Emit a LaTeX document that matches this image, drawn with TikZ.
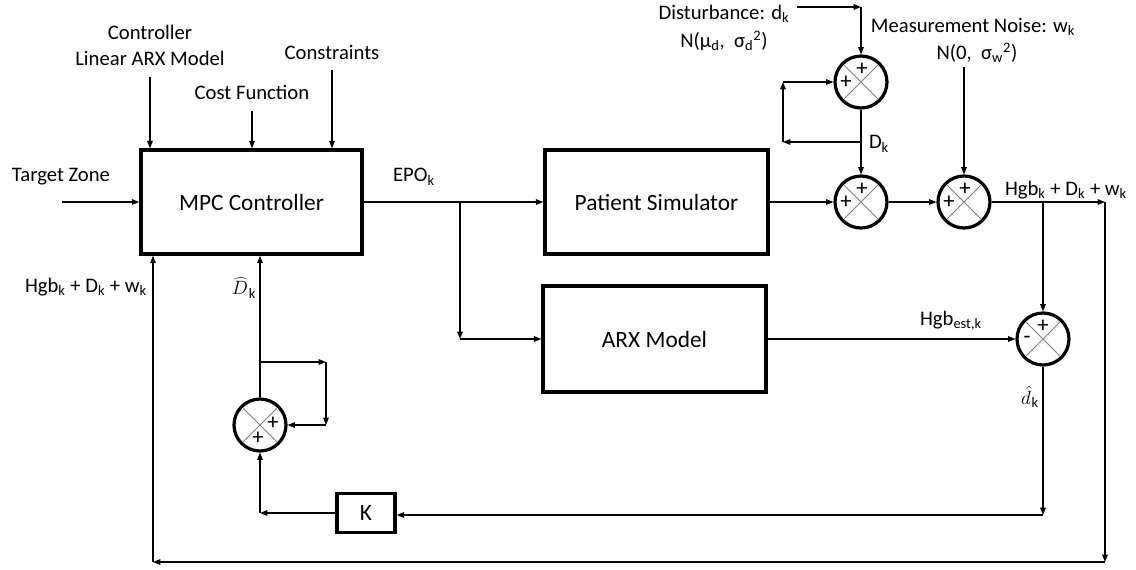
\documentclass[tikz,border=0pt]{standalone}
\usepackage{fontspec}
\setmainfont{Carlito}
\usetikzlibrary{arrows.meta}
\begin{document}
\begin{tikzpicture}[x=0.75pt,y=-0.75pt,
  conn/.style={line width=0.8pt,-{Triangle[length=5.5pt,width=4.2pt]}},
  blk/.style={draw,line width=2.6pt,inner sep=0pt,font=\fontsize{17.5}{20}\selectfont},
  sumnode/.style={draw,circle,line width=2.4pt,minimum size=39pt,inner sep=0pt},
  lbl/.style={inner sep=0pt,font=\fontsize{15.5}{18}\selectfont},
  sgn/.style={inner sep=0pt,font=\fontsize{17}{18}\selectfont}]
\useasboundingbox (0,0) rectangle (1136,569);

% blocks
\node[blk,minimum width=165.75pt,minimum height=78pt] (MPC) at (251.5,202) {MPC Controller};
\node[blk,minimum width=167.25pt,minimum height=78pt] (PS) at (656.5,202) {Patient Simulator};
\node[blk,minimum width=167.25pt,minimum height=79.5pt] (ARX) at (654.5,339) {ARX Model};
\node[blk,minimum width=43.5pt,minimum height=29.25pt] (K) at (366,513) {K};

% summing junctions
\node[sumnode] (S1) at (861,82) {};
\node[sumnode] (S2) at (861,202) {};
\node[sumnode] (S3) at (964,202) {};
\node[sumnode] (S4) at (1043,339) {};
\node[sumnode] (S5) at (260,425) {};
\foreach \s in {S1,S2,S3,S4,S5}{
  \draw[gray,line width=0.55pt] ([shift={(45:24)}]\s.center) -- ([shift={(225:24)}]\s.center)
                                ([shift={(135:24)}]\s.center) -- ([shift={(315:24)}]\s.center);
}
\node[sgn] (S1t) at (862,69) {+};
\node[sgn] (S1l) at (846,82) {+};
\node[sgn] (S2t) at (862,189) {+};
\node[sgn] (S2l) at (846,202) {+};
\node[sgn] (S3t) at (965,189) {+};
\node[sgn] (S3l) at (949,202) {+};
\node[sgn] (S4t) at (1043,326) {+};
\node[sgn] (S4l) at (1027,340) {-};
\node[sgn] (S5r) at (273,423) {+};
\node[sgn] (S5b) at (258,438) {+};

% labels
\node[lbl] (lctl) at (150,32) {Controller};
\node[lbl] (larx) at (150,58) {Linear ARX Model};
\node[lbl] (lcost) at (252,92) {Cost Function};
\node[lbl] (lcons) at (332,52) {Constraints};
\node[lbl] (ltz) at (61,177) {Target Zone};
\node[lbl] (lepo) at (414,177) {EPO\textsubscript{k}};
\node[lbl] (lfb) at (86,287) {Hgb\textsubscript{k} + D\textsubscript{k} + w\textsubscript{k}};
\node[lbl] (ldh) at (244,288) {$\widehat{D}$\kern0.5pt\textsubscript{k}};
\node[lbl] (ldist) at (724,14) {Disturbance: d\textsubscript{k}};
\node[lbl] (ldistn) at (724,41) {N(μ\textsubscript{d},\ \ σ\textsubscript{d}\textsuperscript{2})};
\node[lbl] (lnoise) at (973,27) {Measurement Noise: w\textsubscript{k}};
\node[lbl] (lnoisen) at (977,53) {N(0,\ \ σ\textsubscript{w}\textsuperscript{2})};
\node[lbl] (lDk) at (879,144) {D\textsubscript{k}};
\node[lbl] (lout) at (1066,190) {Hgb\textsubscript{k} + D\textsubscript{k} + w\textsubscript{k}};
\node[lbl] (lest) at (951,321) {Hgb\textsubscript{est,k}};
\node[lbl] (ldhat) at (1030,397) {$\hat{d}$\kern0.5pt\textsubscript{k}};

% coordinates
\coordinate (i1) at (150,77);
\coordinate (i2) at (252,111);
\coordinate (i3) at (332,70);
\coordinate (tz) at (62,202);
\coordinate (ej) at (460,202);
\coordinate (ec) at (460,339);
\coordinate (d0) at (797,7);
\coordinate (dc) at (861,7);
\coordinate (nz) at (964,67);
\coordinate (jD) at (861,142);
\coordinate (lc1) at (783,142);
\coordinate (lc2) at (783,82);
\coordinate (oj) at (1043,202);
\coordinate (ro) at (1105,202);
\coordinate (rb) at (1105,562);
\coordinate (lb) at (153,562);
\coordinate (dhc) at (1043,515);
\coordinate (kc) at (260,513);
\coordinate (j5) at (260,362);
\coordinate (c5a) at (326,362);
\coordinate (c5b) at (326,425);

% connectors: controller inputs
\draw[conn] (i1) -- (i1 |- MPC.north);
\draw[conn] (i2) -- (i2 |- MPC.north);
\draw[conn] (i3) -- (i3 |- MPC.north);
\draw[conn] (tz) -- (MPC.west);

% EPO
\draw[conn] (MPC.east) -- (PS.west);
\draw[conn] (ej) -- (ec);
\draw[conn] (ec) -- (ARX.west);

% disturbance
\draw[conn] (d0) -- (dc);
\draw[conn] (dc) -- (S1.north);
\draw[conn] (S1.south) -- (S2.north);
\draw[conn] (jD) -- (lc1);
\draw[conn] (lc1) -- (lc2);
\draw[conn] (lc2) -- (S1.west);

% plant path
\draw[conn] (PS.east) -- (S2.west);
\draw[conn] (S2.east) -- (S3.west);
\draw[conn] (nz) -- (S3.north);
\draw[conn] (S3.east) -- (ro);
\draw[conn] (oj) -- (S4.north);
\draw[conn] (ARX.east) -- (S4.west);

% measurement feedback
\draw[conn] (ro) -- (rb);
\draw[conn] (rb) -- (lb);
\draw[conn] (lb) -- (lb |- MPC.south);

% disturbance estimate path
\draw[conn] (S4.south) -- (dhc);
\draw[conn] (dhc) -- (dhc -| K.east);
\draw[conn] (K.west) -- (kc);
\draw[conn] (kc) -- (S5.south);
\draw[conn] (S5.north) -- (S5.north |- MPC.south);
\draw[conn] (j5) -- (c5a);
\draw[conn] (c5a) -- (c5b);
\draw[conn] (c5b) -- (S5.east);
\end{tikzpicture}
\end{document}
